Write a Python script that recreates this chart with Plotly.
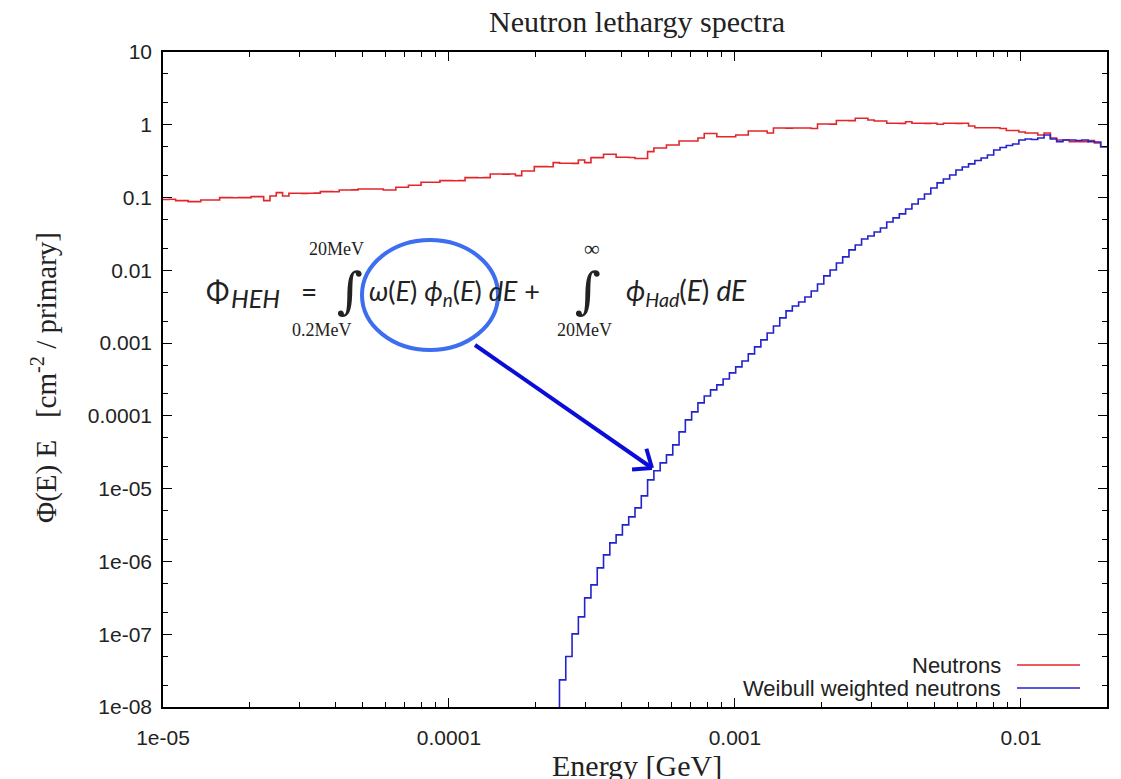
import math
import numpy as np
import plotly.graph_objects as go

# ---------------- data ----------------
E_MIN, E_MAX, N_BINS = 1e-5, 0.02, 150          # log-uniform energy binning [GeV]
BLUE_FIRST_BIN = 62                              # first bin index of the weighted spectrum

neutrons = [
    0.094, 0.0947, 0.0907, 0.0907, 0.0878, 0.0878, 0.0927, 0.0927, 0.0925, 0.0997,   # 0-9
    0.0997, 0.0995, 0.0997, 0.0999, 0.1029, 0.1029, 0.0907, 0.1052, 0.1168, 0.1052,   # 10-19
    0.1146, 0.1146, 0.1140, 0.1146, 0.1150, 0.1205, 0.1205, 0.1200, 0.1273, 0.1273,   # 20-29
    0.1275, 0.1313, 0.1313, 0.1310, 0.1313, 0.1273, 0.1273, 0.1385, 0.1385, 0.1476,   # 30-39
    0.1476, 0.1623, 0.1623, 0.1620, 0.1707, 0.1707, 0.1700, 0.1707, 0.1877, 0.1877,   # 40-49
    0.1870, 0.1877, 0.2111, 0.2111, 0.2100, 0.2111, 0.1999, 0.2319, 0.2319, 0.2657,   # 50-59
    0.2657, 0.2650, 0.3016, 0.2959, 0.2959, 0.2950, 0.3284, 0.3016, 0.3532, 0.3532,   # 60-69
    0.3934, 0.3934, 0.3577, 0.3577, 0.3555, 0.3444, 0.3444, 0.4272, 0.4800, 0.4800,   # 70-79
    0.5279, 0.5279, 0.5990, 0.5990, 0.5980, 0.6588, 0.7592, 0.7592, 0.6862, 0.6862,   # 80-89
    0.6862, 0.7242, 0.7242, 0.8221, 0.8221, 0.8200, 0.7716, 0.9036, 0.9036, 0.9000,   # 90-99
    0.9036, 0.9036, 0.9036, 0.8895, 1.026, 1.026, 1.020, 1.146, 1.146, 1.140,         # 100-109
    1.229, 1.229, 1.164, 1.128, 1.128, 1.049, 1.049, 1.045, 1.103, 1.049,             # 110-119
    1.049, 1.045, 1.049, 1.016, 1.049, 1.049, 1.045, 1.049, 0.963, 0.912,             # 120-129
    0.912, 0.910, 0.912, 0.8895, 0.835, 0.835, 0.796, 0.7716, 0.7716, 0.7242,         # 130-139
    0.7716, 0.659, 0.618, 0.618, 0.586, 0.586, 0.586, 0.605, 0.562, 0.500,            # 140-149
]

weibull_neutrons = [
    1e-10,                                                                            # 62 (below 1e-8)
    2.36e-8, 4.94e-8, 1.01e-7, 1.73e-7, 3.16e-7, 4.77e-7, 8.17e-7, 1.23e-6,           # 63-70
    1.80e-6, 2.32e-6, 3.18e-6, 4.10e-6, 5.45e-6, 7.96e-6, 1.32e-5, 1.76e-5,           # 71-78
    2.26e-5, 2.91e-5, 4.00e-5, 6.03e-5, 8.81e-5, 1.135e-4, 1.51e-4, 1.88e-4,          # 79-86
    2.28e-4, 2.67e-4, 3.22e-4, 3.90e-4, 4.71e-4, 5.69e-4, 7.11e-4, 8.87e-4,          # 87-94
    1.107e-3, 1.38e-3, 1.72e-3, 2.22e-3, 2.77e-3, 3.24e-3, 3.68e-3, 4.31e-3,         # 95-102
    5.21e-3, 6.50e-3, 8.38e-3, 1.01e-2, 1.26e-2, 1.53e-2, 1.91e-2, 2.23e-2,          # 103-110
    2.70e-2, 2.97e-2, 3.37e-2, 3.82e-2, 4.62e-2, 5.25e-2, 5.96e-2, 6.97e-2,          # 111-118
    8.17e-2, 9.57e-2, 0.112, 0.1355, 0.159, 0.180, 0.204, 0.239,                      # 119-126
    0.263, 0.290, 0.323, 0.350, 0.385, 0.451, 0.488, 0.520,                           # 127-134
    0.545, 0.618, 0.638, 0.628, 0.659, 0.724, 0.638, 0.586,                           # 135-142
    0.618, 0.618, 0.608, 0.618, 0.586, 0.580, 0.500,                                  # 143-149
]

series_names = ["Neutrons", "Weibull weighted neutrons"]
series_colors = ["#e3262b", "#2323cc"]

x_tickvals = [1e-5, 1e-4, 1e-3, 1e-2]
x_ticktext = ["1e-05", "0.0001", "0.001", "0.01"]
y_tickvals = [10, 1, 0.1, 0.01, 0.001, 1e-4, 1e-5, 1e-6, 1e-7, 1e-8]
y_ticktext = ["10", "1", "0.1", "0.01", "0.001", "0.0001", "1e-05", "1e-06", "1e-07", "1e-08"]

assert len(neutrons) == N_BINS
assert BLUE_FIRST_BIN + len(weibull_neutrons) == N_BINS

# ---------------- figure ----------------
OFF = 8                      # page body margin
W, H = 1121 - OFF, 779 - OFF
PL, PT, PR, PB = 163, 52, 1107, 707          # plot area in page pixels
ML, MT = PL - OFF, PT - OFF
PW, PH = PR - PL, PB - PT
MR, MB = W - ML - PW, H - MT - PH


def px(x):
    return (x - PL) / PW


def py(y):
    return (PB - y) / PH


edges = np.logspace(np.log10(E_MIN), np.log10(E_MAX), N_BINS + 1)


def staircase(vals, start):
    xs = list(edges[start:start + len(vals) + 1])
    ys = list(vals) + [vals[-1]]
    return xs, ys


fig = go.Figure()
for vals, start, name, col in [(neutrons, 0, series_names[0], series_colors[0]),
                                (weibull_neutrons, BLUE_FIRST_BIN, series_names[1], series_colors[1])]:
    xs, ys = staircase(vals, start)
    fig.add_trace(go.Scatter(x=xs, y=ys, mode="lines", name=name,
                             line=dict(color=col, width=1.6, shape="hv"),
                             showlegend=False))

minor_x = [m * 10.0 ** k for k in range(-5, -1) for m in range(2, 10) if m * 10.0 ** k <= E_MAX]
minor_y = [m * 10.0 ** k for k in range(-8, 1) for m in (2, 5)]

axis_common = dict(type="log", showline=True, linecolor="black", linewidth=1.5,
                   mirror="allticks", ticks="inside", ticklen=9, tickwidth=1.2,
                   tickcolor="black", showgrid=False, zeroline=False,
                   tickfont=dict(family="Liberation Sans, Arial, sans-serif", size=21, color="#222"))

fig.update_xaxes(**axis_common, range=[np.log10(E_MIN), np.log10(E_MAX)],
                 tickmode="array", tickvals=x_tickvals, ticktext=x_ticktext,
                 ticklabelstandoff=11,
                 minor=dict(tickmode="array", tickvals=minor_x, ticks="inside",
                            ticklen=5, tickcolor="black", showgrid=False))
fig.update_yaxes(**axis_common, range=[-8, 1],
                 tickmode="array", tickvals=y_tickvals, ticktext=y_ticktext,
                 ticklabelstandoff=5,
                 minor=dict(tickmode="array", tickvals=minor_y, ticks="inside",
                            ticklen=5, tickcolor="black", showgrid=False))

serif = "Liberation Serif, Times New Roman, serif"
sans = "Liberation Sans, Arial, sans-serif"
mathsans = "Lato, Open Sans, sans-serif"
NB = "\u00a0"
fcol = "#222"

ann = []


def label(text, x, y, size, family, xanchor="center", yanchor="middle", **kw):
    ann.append(dict(text=text, x=px(x), y=py(y), xref="paper", yref="paper",
                    showarrow=False, xanchor=xanchor, yanchor=yanchor,
                    font=dict(family=family, size=size, color=kw.pop("color", fcol)), **kw))


# axis titles
label("Energy [GeV]", 637, 765, 30, serif)
label("Φ(E) E" + NB * 3 + "[cm<sup>-2</sup> / primary]", 44, 378, 29, serif, textangle=-90)

# formula
label("Φ", 204, 291, 28, mathsans, xanchor="left")
label("<i>HEH</i>", 229, 298, 25, mathsans, xanchor="left")
label("=", 309, 291, 28, mathsans)
label("∫", 350, 291, 50, "DejaVu Serif, serif")
label("20MeV", 336, 249, 18, serif)
label("0.2MeV", 322, 330, 18, serif)
label("<i>ω</i>(<i>E</i>) <i>ϕ<sub>n</sub></i>(<i>E</i>) <i>dE</i> +", 367, 292, 27, mathsans,
      xanchor="left")
label("∫", 588, 291, 50, "DejaVu Serif, serif")
label("∞", 592, 249, 22, serif)
label("20MeV", 584, 330, 18, serif)
label("<i>ϕ<sub>Had</sub></i>(<i>E</i>) <i>dE</i>", 624, 292, 28, mathsans, xanchor="left")

# legend (text left of line sample)
for i, name in enumerate(series_names):
    label(name, 1003, 665 + 23 * i, 22, sans, xanchor="right")

shapes = [dict(type="circle", xref="paper", yref="paper",
               x0=px(362), x1=px(498), y0=py(350), y1=py(240),
               line=dict(color="#3d6ef0", width=4))]
for i, col in enumerate(series_colors):
    yy = 665 + 23 * i
    shapes.append(dict(type="line", xref="paper", yref="paper",
                       x0=px(1017), x1=px(1080), y0=py(yy), y1=py(yy),
                       line=dict(color=col, width=1.6)))

# arrow with an open V head (page pixel geometry)
arrow_col = "#0c0cd8"
tail, tip = (475, 345), (652, 468)
shapes.append(dict(type="line", xref="paper", yref="paper",
                   x0=px(tail[0]), y0=py(tail[1]), x1=px(tip[0]), y1=py(tip[1]),
                   line=dict(color=arrow_col, width=4)))
back = math.atan2(tail[1] - tip[1], tail[0] - tip[0])
for d in (-0.68, 0.68):
    a = back + d
    ex, ey = tip[0] + 20 * math.cos(a), tip[1] + 20 * math.sin(a)
    shapes.append(dict(type="line", xref="paper", yref="paper",
                       x0=px(tip[0]), y0=py(tip[1]), x1=px(ex), y1=py(ey),
                       line=dict(color=arrow_col, width=4)))

fig.update_layout(
    width=W, height=H,
    margin=dict(l=ML, r=MR, t=MT, b=MB, pad=0),
    paper_bgcolor="white", plot_bgcolor="white",
    title=dict(text="Neutron lethargy spectra", x=px(637), xref="paper",
               y=1 - (21 - OFF) / H, yref="container", xanchor="center", yanchor="middle",
               font=dict(family=serif, size=30, color="#222")),
    annotations=ann, shapes=shapes, showlegend=False,
)

fig.write_html("out.html")
